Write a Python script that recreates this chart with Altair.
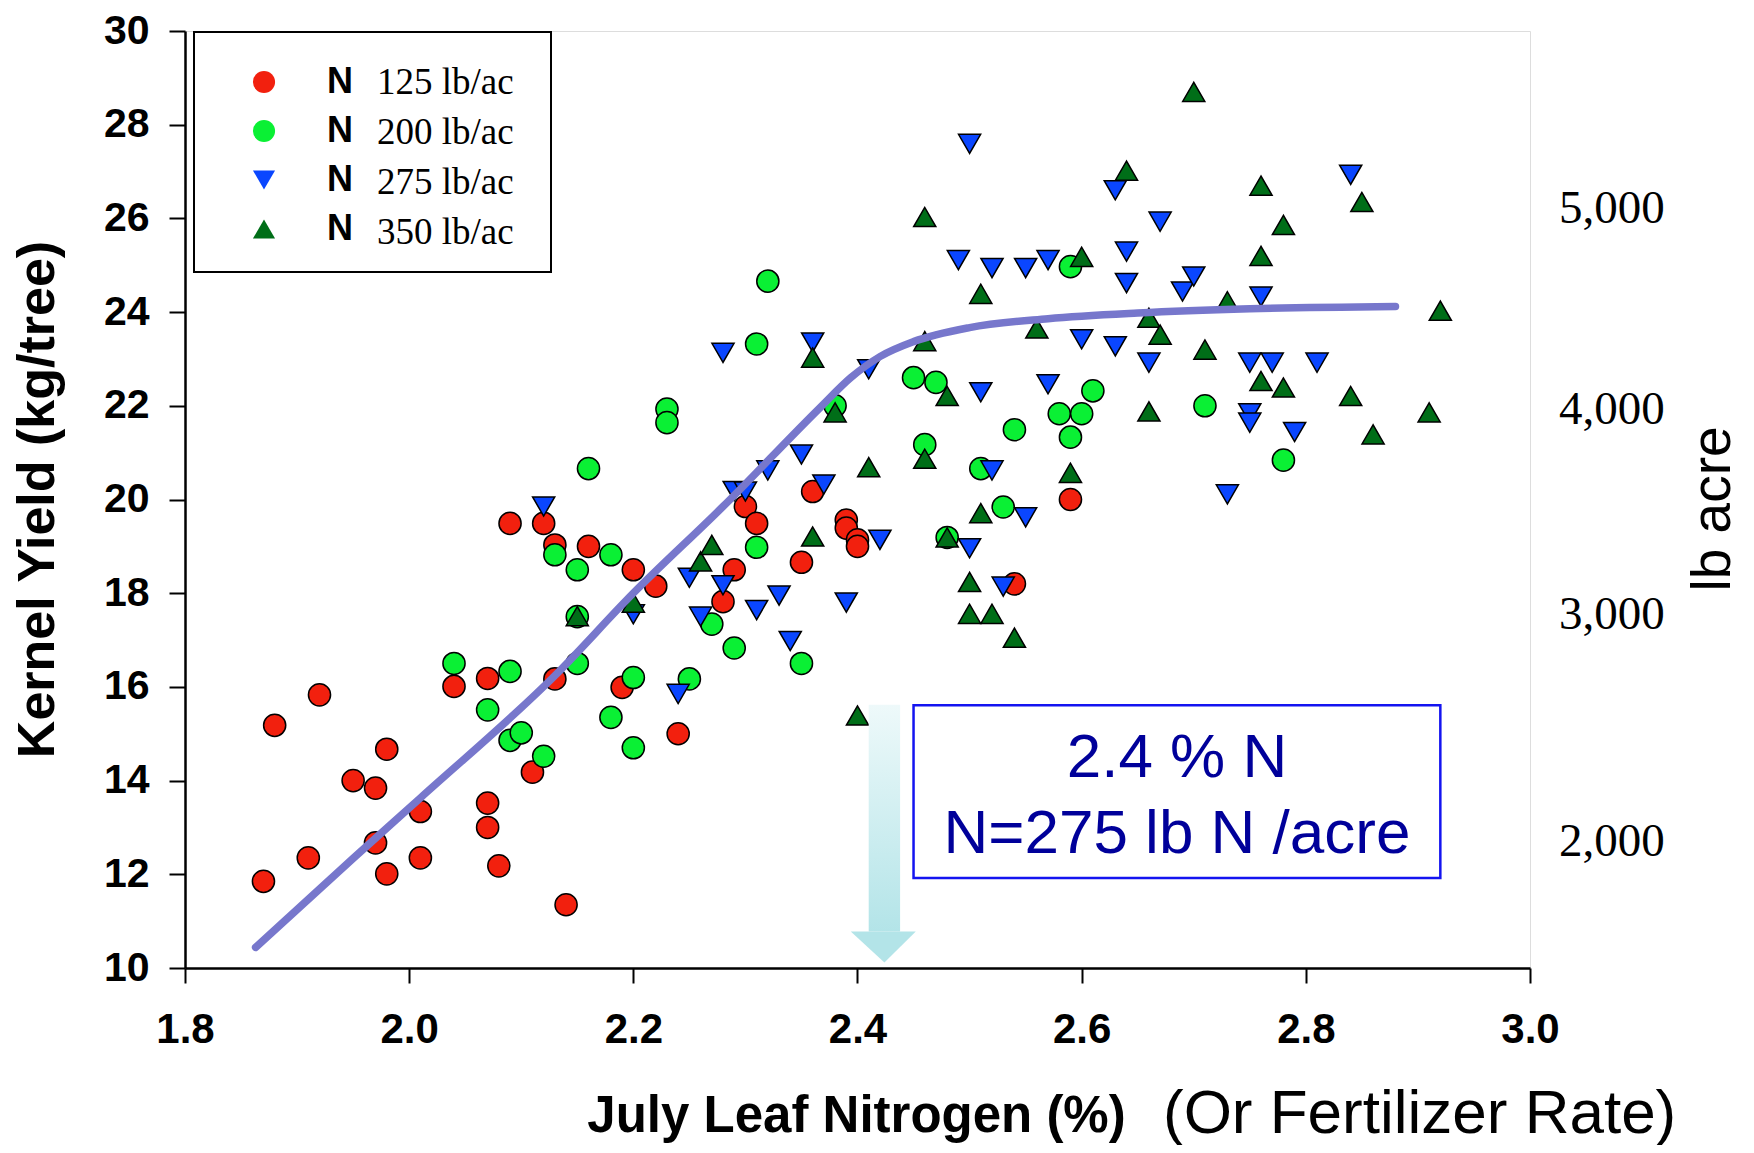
import altair as alt
import pandas as pd

# ---------------- data ----------------
rates = ["125", "200", "275", "350"]
rate_labels = ["125 lb/ac", "200 lb/ac", "275 lb/ac", "350 lb/ac"]
colors = ["#F2200E", "#0AF034", "#0A46FF", "#006E18"]
shapes = ["circle", "circle", "triangle-down", "triangle-up"]

n125_x = [1.87, 1.88, 1.91, 1.92, 1.95, 1.97, 1.97, 1.98, 1.98, 2.01, 2.01, 2.04, 2.07, 2.07,
          2.07, 2.08, 2.09, 2.11, 2.12, 2.13, 2.13, 2.14, 2.16, 2.19, 2.20, 2.22, 2.24, 2.28,
          2.29, 2.30, 2.31, 2.35, 2.36, 2.39, 2.39, 2.40, 2.40, 2.54, 2.59]
n125_y = [11.85, 15.18, 12.35, 15.83, 14.0, 13.84, 12.67, 14.67, 12.01, 13.34, 12.35, 16.01, 16.18, 13.52,
          13.0, 12.18, 19.49, 14.18, 19.49, 19.03, 16.17, 11.35, 19.0, 15.99, 18.5, 18.15, 15.0, 17.82,
          18.5, 19.85, 19.49, 18.66, 20.17, 19.56, 19.39, 19.14, 19.0, 18.2, 20.0]

n200_x = [2.04, 2.07, 2.09, 2.09, 2.10, 2.12, 2.13, 2.15, 2.15, 2.15, 2.16, 2.18, 2.18, 2.20,
          2.20, 2.23, 2.23, 2.25, 2.27, 2.29, 2.31, 2.31, 2.32, 2.35, 2.38, 2.45, 2.46, 2.47,
          2.48, 2.51, 2.53, 2.54, 2.58, 2.59, 2.59, 2.60, 2.61, 2.71, 2.78]
n200_y = [16.5, 15.51, 16.33, 14.86, 15.02, 14.52, 18.82, 18.5, 16.5, 17.5, 20.66, 18.82, 15.35, 16.2,
          14.7, 21.93, 21.64, 16.17, 17.34, 16.83, 23.32, 18.98, 24.66, 16.5, 22.0, 22.6, 21.17, 22.5,
          19.19, 20.66, 19.84, 21.49, 21.83, 21.33, 24.97, 21.83, 22.32, 22.0, 20.84]

n275_x = [2.12, 2.20, 2.24, 2.25, 2.26, 2.28, 2.28, 2.29, 2.30, 2.31, 2.32, 2.33, 2.34, 2.35,
          2.36, 2.37, 2.39, 2.41, 2.42, 2.49, 2.50, 2.50, 2.51, 2.52, 2.52, 2.53, 2.55, 2.55,
          2.57, 2.57, 2.60, 2.63, 2.63, 2.64, 2.64, 2.66, 2.67, 2.69, 2.70, 2.73, 2.75, 2.75,
          2.75, 2.76, 2.77, 2.79, 2.81, 2.84]
n275_y = [19.85, 17.55, 15.85, 18.33, 17.5, 18.17, 23.13, 20.18, 20.17, 17.64, 20.62, 17.95, 16.98, 20.96,
          23.35, 20.32, 17.8, 22.78, 19.14, 25.11, 27.59, 18.96, 22.29, 24.94, 20.62, 18.14, 24.94, 19.62,
          25.11, 22.46, 23.42, 26.6, 23.27, 25.29, 24.62, 22.92, 25.93, 24.44, 24.76, 20.11, 22.92, 21.84,
          21.64, 24.33, 22.92, 21.44, 22.92, 26.93]

n350_x = [2.15, 2.20, 2.26, 2.27, 2.36, 2.36, 2.38, 2.40, 2.41, 2.46, 2.46, 2.46, 2.48, 2.48,
          2.50, 2.50, 2.51, 2.51, 2.52, 2.54, 2.56, 2.59, 2.60, 2.64, 2.66, 2.66, 2.67, 2.70,
          2.71, 2.73, 2.76, 2.76, 2.76, 2.78, 2.78, 2.84, 2.85, 2.86, 2.91, 2.92]
n350_y = [17.51, 17.8, 18.68, 19.03, 19.21, 23.03, 21.86, 15.39, 20.69, 26.03, 23.38, 20.87, 22.21, 19.19,
          18.24, 17.56, 24.39, 19.71, 17.56, 17.05, 23.65, 20.57, 25.18, 27.02, 23.88, 21.88, 23.52, 28.7,
          23.2, 24.23, 26.7, 25.2, 22.53, 25.86, 22.39, 22.21, 26.35, 21.39, 21.86, 24.03]

fit_x = [1.863, 1.95, 2.01, 2.13, 2.20, 2.28, 2.367, 2.394, 2.42, 2.45, 2.50, 2.57, 2.65, 2.75, 2.88]
fit_y = [10.44, 12.34, 13.63, 16.24, 18.0, 19.85, 21.97, 22.6, 23.05, 23.37, 23.67, 23.86, 23.98, 24.07, 24.12]

right_labels = ["5,000", "4,000", "3,000", "2,000"]
right_pos = [26.2, 21.91, 17.54, 12.68]

x_ticks = [1.8, 2.0, 2.2, 2.4, 2.6, 2.8, 3.0]
y_ticks = [10, 12, 14, 16, 18, 20, 22, 24, 26, 28, 30]

note_lines = ["2.4 % N", "N=275 lb N /acre"]
note_x = 2.685
note_y = [14.08, 12.46]
note_box = {"x": 2.45, "x2": 2.92, "y": 11.92, "y2": 15.61}

arrow_shaft = {"x": 2.410, "x2": 2.438, "y": 10.78, "y2": 15.62}
arrow_head_x = [2.394, 2.424, 2.452]
arrow_head_y = [10.78, 10.12, 10.78]

# ---------------- tables ----------------
series = [(n125_x, n125_y), (n200_x, n200_y), (n275_x, n275_y), (n350_x, n350_y)]
rows = []
for r, (xs, ys) in zip(rates, series):
    for a, b in zip(xs, ys):
        rows.append({"x": a, "y": b, "rate": r})
pts_df = pd.DataFrame(rows)
fit_df = pd.DataFrame({"x": fit_x, "y": fit_y})
right_df = pd.DataFrame({"label": right_labels, "y": right_pos})
note_df = pd.DataFrame({"text": note_lines, "x": [note_x] * 2, "y": note_y})
box_df = pd.DataFrame([note_box])
shaft_df = pd.DataFrame([arrow_shaft])
head_df = pd.DataFrame({"x": arrow_head_x, "y": arrow_head_y, "y2": [arrow_head_y[0]] * 3})
leg_df = pd.DataFrame({"label": rate_labels})
one_df = pd.DataFrame({"a": [0]})

SANS = "Liberation Sans"
SERIF = "Liberation Serif"

xscale = alt.Scale(domain=[1.8, 3.0], nice=False, zero=False)
yscale = alt.Scale(domain=[10, 30], nice=False, zero=False)

xaxis = alt.Axis(values=x_ticks, format=".1f", labelFont=SANS, labelFontWeight="bold",
                 labelFontSize=42, labelColor="black", labelPadding=26, labelFlush=False,
                 labelOverlap=False, tickSize=15, tickColor="black", tickWidth=2,
                 domainColor="black", domainWidth=2.5, grid=False,
                 title="July Leaf Nitrogen (%)", titleFont=SANS, titleFontWeight="bold",
                 titleFontSize=51, titleColor="black", titleX=671, titleY=163,
                 titleBaseline="alphabetic", titleAlign="center")
yaxis = alt.Axis(values=y_ticks, format="d", labelFont=SANS, labelFontWeight="bold",
                 labelFontSize=41, labelColor="black", labelPadding=20, labelOverlap=False,
                 tickSize=16, tickColor="black", tickWidth=2, domainColor="black",
                 domainWidth=2.5, grid=False,
                 title="Kernel Yield (kg/tree)", titleFont=SANS, titleFontWeight="bold",
                 titleFontSize=52, titleColor="black", titleAngle=270, titleX=-132,
                 titleY=468, titleBaseline="alphabetic", titleAlign="center")

legA = alt.Legend(orient="none", legendX=61, legendY=33, title=None, labelExpr="'N'",
                  labelFont=SANS, labelFontWeight="bold", labelFontSize=36, labelColor="black",
                  symbolSize=490, symbolStrokeWidth=1.5, symbolStrokeColor="black",
                  rowPadding=13, labelOffset=45, padding=0, labelLimit=300)
legB = alt.Legend(orient="none", legendX=151, legendY=33, title=None,
                  labelFont=SERIF, labelFontSize=37, labelColor="black",
                  symbolSize=490, symbolOpacity=0, symbolStrokeWidth=0, symbolType="circle",
                  rowPadding=12, labelOffset=4, padding=0, labelLimit=300)

points = alt.Chart(pts_df).mark_point(filled=True, size=490, stroke="black",
                                      strokeWidth=1.5, opacity=1).encode(
    x=alt.X("x:Q", scale=xscale, axis=xaxis),
    y=alt.Y("y:Q", scale=yscale, axis=yaxis),
    fill=alt.Fill("rate:N", scale=alt.Scale(domain=rates, range=colors), legend=legA),
    shape=alt.Shape("rate:N", scale=alt.Scale(domain=rates, range=shapes), legend=legA),
)

legend_labels = alt.Chart(leg_df).mark_point(opacity=0).encode(
    x=alt.value(0), y=alt.value(0),
    stroke=alt.Stroke("label:N", scale=alt.Scale(domain=rate_labels, range=["black"] * 4),
                      legend=legB),
)

legend_box = alt.Chart(one_df).mark_rect(fillOpacity=0, stroke="black", strokeWidth=2).encode(
    x=alt.value(9), x2=alt.value(366), y=alt.value(1), y2=alt.value(241)
)

fit = alt.Chart(fit_df).mark_line(color="#7777CC", strokeWidth=7.5, interpolate="monotone",
                                  strokeCap="round").encode(x="x:Q", y="y:Q")

grad = alt.LinearGradient(gradient="linear",
                          stops=[alt.GradientStop(color="#EEF9FA", offset=0),
                                 alt.GradientStop(color="#B3E4E8", offset=1)],
                          x1=0, x2=0, y1=0, y2=1)
shaft = alt.Chart(shaft_df).mark_rect(color=grad).encode(
    x="x:Q", x2="x2:Q", y="y:Q", y2="y2:Q")
head = alt.Chart(head_df).mark_area(color="#B3E4E8", opacity=1).encode(
    x="x:Q", y="y:Q", y2="y2:Q")

box = alt.Chart(box_df).mark_rect(fill="white", stroke="#1414F0", strokeWidth=2.5).encode(
    x="x:Q", x2="x2:Q", y="y:Q", y2="y2:Q")
note = alt.Chart(note_df).mark_text(font=SANS, fontSize=62, color="#00009A", align="center",
                                    baseline="alphabetic").encode(
    x="x:Q", y="y:Q", text="text:N")

right_text = alt.Chart(right_df).mark_text(font=SERIF, fontSize=47, color="black", align="left",
                                           baseline="middle").encode(
    x=alt.value(1374), y="y:Q", text="label:N")
right_title = alt.Chart(one_df).mark_text(text="lb acre", font=SANS, fontSize=55, color="black",
                                          angle=270, align="center", baseline="middle").encode(
    x=alt.value(1528), y=alt.value(478))
rate_title = alt.Chart(one_df).mark_text(text="(Or Fertilizer Rate)", font=SANS, fontSize=62,
                                         color="black", align="left",
                                         baseline="alphabetic").encode(
    x=alt.value(978), y=alt.value(1102))

chart = alt.layer(
    points, fit, shaft, head, box, note, legend_box, legend_labels,
    right_text, right_title, rate_title
).resolve_legend(
    stroke="independent"
).properties(
    width=1345, height=937,
    autosize=alt.AutoSizeParams(type="none"),
    padding={"left": 177, "top": 23, "right": 215, "bottom": 177},
).configure_view(
    stroke="black", strokeWidth=2
).configure(
    background="white"
)

chart.save("out.html", embed_options={"renderer": "svg", "actions": False})
